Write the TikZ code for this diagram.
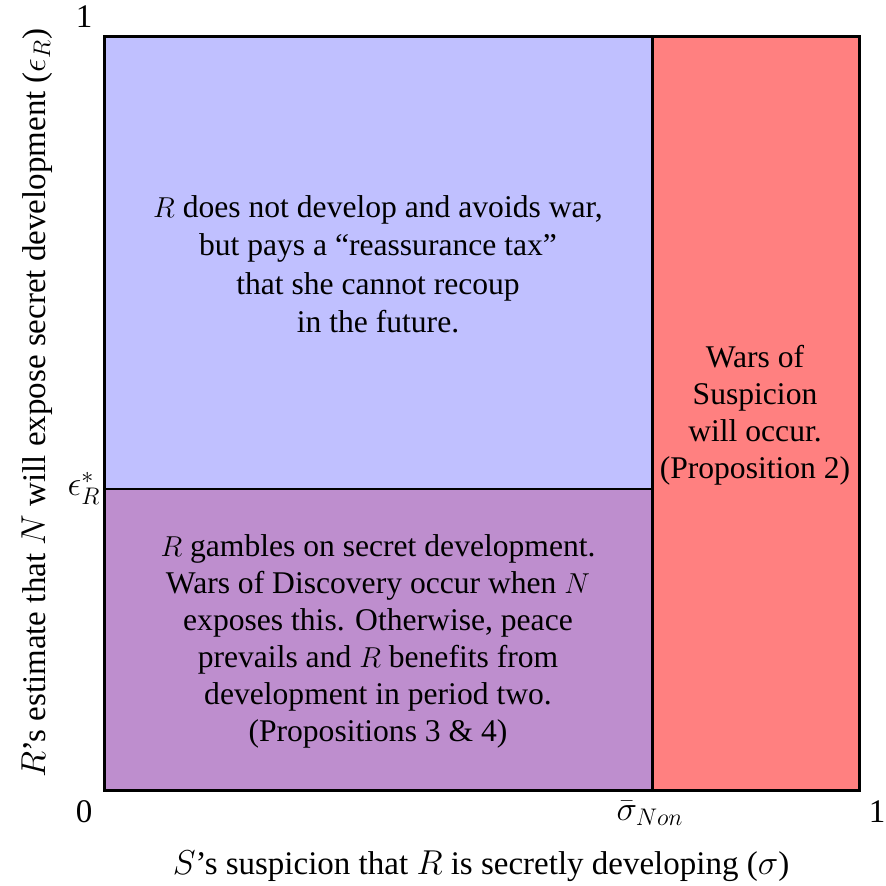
\documentclass[tikz,border=0pt]{standalone}
\usepackage{fontspec}
\setmainfont{Liberation Serif}
\usepackage{tikz}
\definecolor{reassure}{RGB}{192,192,255}
\definecolor{gamble}{RGB}{190,142,206}
\definecolor{suspicion}{RGB}{255,128,128}

\begin{document}
\begin{tikzpicture}[x=0.5pt, y=-0.5pt, font=\fontsize{16.5}{19.75}\selectfont]
  \useasboundingbox (0,0) rectangle (886,885);

  \fill[reassure] (104,36) rectangle (652,489);
  \fill[gamble] (104,489) rectangle (652,790);
  \fill[suspicion] (652,36) rectangle (859,790);
  \draw[line width=1.5pt] (104,36) rectangle (859,790);
  \draw[line width=1.5pt] (652,36) -- (652,790);
  \draw[line width=1.1pt] (104,489) -- (652,489);

  \node[align=center, font=\fontsize{15.8}{19.25}\selectfont] (Tax) at (378,264) {$R$ does not develop and avoids war,\\but pays a ``reassurance tax''\\that she cannot recoup\\in the future.};
  \node[align=center, font=\fontsize{15.8}{18.5}\selectfont] (Gam) at (378,641) {$R$ gambles on secret development.\\Wars of Discovery occur when $N$\\exposes this. Otherwise, peace\\prevails and $R$ benefits from\\development in period two.\\(Propositions 3 \& 4)};
  \node[align=center, font=\fontsize{15.8}{18.5}\selectfont] (War) at (755,415) {Wars of\\Suspicion\\will occur.\\(Proposition 2)};

  \node (Top) at (84,17) {1};
  \node (Zero) at (84,812) {0};
  \node (One) at (877,812) {1};
  \node (Sig) at (650,813) {$\bar{\sigma}_{Non}$};
  \node (Eps) at (84,488) {$\epsilon^*_R$};

  \node[anchor=base] (XLab) at (481,874) {$S$'s suspicion that $R$ is secretly developing ($\sigma$)};
  \node[rotate=90, anchor=base] (YLab) at (45,403) {$R$'s estimate that $N$ will expose secret development ($\epsilon_R$)};

\end{tikzpicture}
\end{document}
